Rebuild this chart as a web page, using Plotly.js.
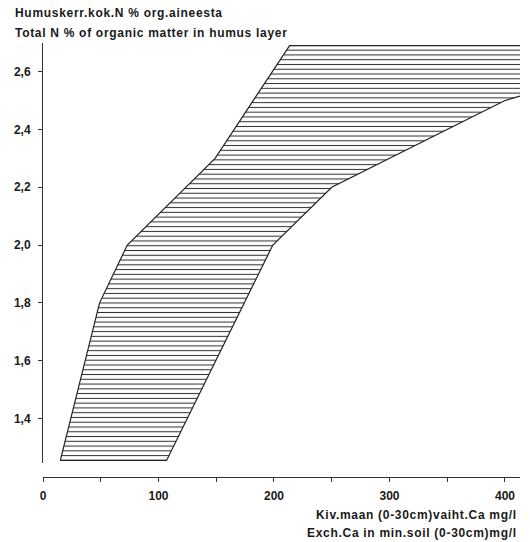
<!DOCTYPE html>
<html><head><meta charset="utf-8">
<script src="https://cdn.plot.ly/plotly-3.0.1.min.js"></script>
<style>html,body{margin:0;padding:0;background:#fff}
.annotation-text{letter-spacing:0.7px}</style>
</head><body><div id="chart" style="width:530px;height:542px"></div>
<script>
// Left boundary of the band (Exch. Ca mg/l vs Total N %)
const leftCa = [15, 49, 73, 149, 213.5];
const leftN  = [1.255, 1.8, 2.0, 2.3, 2.69];
// Right boundary of the band
const rightCa = [107, 199, 250, 400, 413];
const rightN  = [1.255, 2.0, 2.2, 2.5, 2.515];
const yTickVals = [1.4, 1.6, 1.8, 2.0, 2.2, 2.4, 2.6];
const xTickVals = [0, 100, 200, 300, 400];
const xMinorVals = [50, 150, 250, 350];
const titleFi = "Humuskerr.kok.N % org.aineesta";
const titleEn = "Total N % of organic matter in humus layer";
const xTitleFi = "Kiv.maan (0-30cm)vaiht.Ca mg/l";
const xTitleEn = "Exch.Ca in min.soil (0-30cm)mg/l";

const xRange = [0, 413];
const yRange = [1.246, 2.699];
const xBeyond = xRange[1] + 20;

const rc = rightCa.slice().reverse();
const rn = rightN.slice().reverse();
const polyX = [...leftCa, xBeyond, xBeyond, ...rc, leftCa[0]];
const polyY = [...leftN, leftN[leftN.length-1], rightN[rightN.length-1], ...rn, leftN[0]];

const font = {family: "Liberation Sans, Arial, sans-serif", size: 12, color: "#1a1a1a", weight: "bold"};

const traces = [{
  type: "scatter", mode: "lines",
  x: polyX, y: polyY,
  fill: "toself",
  fillcolor: "rgba(0,0,0,0)",
  fillpattern: {shape: "-", size: 4.77, solidity: 0.22, fgcolor: "#333", bgcolor: "rgba(0,0,0,0)"},
  line: {color: "#222", width: 1.2},
  hoverinfo: "skip", showlegend: false
}];

const L = 42.7, R = 520, T = 43, B = 477;
const W = 530, H = 542;
const px2x = p => (p - L) / (R - L);
const px2y = p => (B - p) / (B - T);

const layout = {
  width: W, height: H,
  margin: {l: L, r: W - R, t: T, b: H - B, pad: 0},
  paper_bgcolor: "#fff", plot_bgcolor: "#fff",
  separators: ", ",
  showlegend: false,
  font: font,
  xaxis: {
    range: xRange, anchor: "free", position: 0,
    showgrid: false, zeroline: false,
    showline: true, linecolor: "#333", linewidth: 1,
    ticks: "outside", ticklen: 4, tickcolor: "#333", tickwidth: 1,
    tickvals: xTickVals, ticktext: xTickVals.map(String),
    ticklabelstandoff: 4,
    minor: {tickvals: xMinorVals, ticks: "outside", ticklen: 4, tickcolor: "#333", tickwidth: 1, showgrid: false},
    tickfont: font
  },
  yaxis: {
    range: yRange, domain: [(B - 463) / (B - T), 1],
    showgrid: false, zeroline: false,
    showline: true, linecolor: "#333", linewidth: 1,
    ticks: "outside", ticklen: 4, tickcolor: "#333", tickwidth: 1,
    tickvals: yTickVals, tickformat: ".1f",
    ticklabelstandoff: 5,
    tickfont: font
  },
  annotations: [
    {text: titleFi, xref: "paper", yref: "paper", x: px2x(13), y: px2y(13), xanchor: "left", yanchor: "middle", showarrow: false, font: font},
    {text: titleEn, xref: "paper", yref: "paper", x: px2x(13), y: px2y(33), xanchor: "left", yanchor: "middle", showarrow: false, font: font},
    {text: xTitleFi, xref: "paper", yref: "paper", x: px2x(519), y: px2y(515), xanchor: "right", yanchor: "middle", showarrow: false, font: font},
    {text: xTitleEn, xref: "paper", yref: "paper", x: px2x(519), y: px2y(533), xanchor: "right", yanchor: "middle", showarrow: false, font: font}
  ]
};

Plotly.newPlot("chart", traces, layout, {staticPlot: true, displayModeBar: false});
</script>
</body></html>
